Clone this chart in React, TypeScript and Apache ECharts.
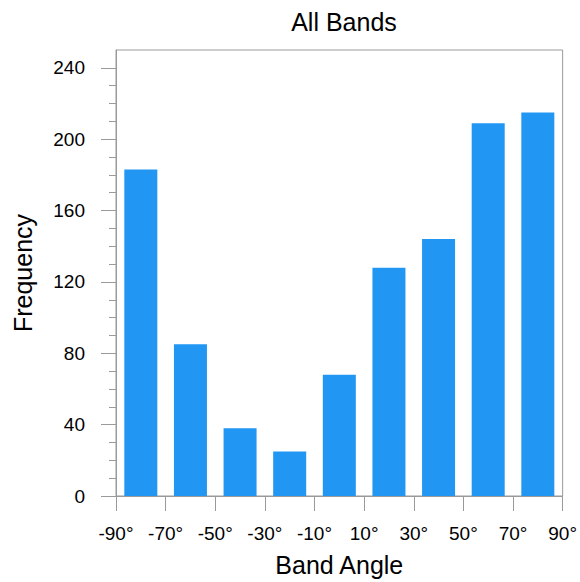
import React, { useEffect, useRef } from "react";
import * as echarts from "echarts";

// Bin centres (degrees) and counts
const binCenters = [-80, -60, -40, -20, 0, 20, 40, 60, 80];
const frequencies = [183, 85, 38, 25, 68, 128, 144, 209, 215];

const xMin = -90;
const xMax = 90;
const xStep = 20;
const yMajorTicks = [0, 40, 80, 120, 160, 200, 240];
const yMinorTicks = [10, 20, 30, 50, 60, 70, 90, 100, 110, 130, 140, 150, 170, 180, 190, 210, 220, 230];
const yMax = 250;

const FONT = "'Liberation Sans', Arial, Helvetica, sans-serif";

export default function App() {
  const ref = useRef<HTMLDivElement>(null);
  useEffect(() => {
    if (!ref.current) return;
    const chart = echarts.init(ref.current, undefined, { renderer: "svg" });
    const offset = -xMin; // shift so axis min is 0 (a multiple of the interval)
    const axisColor = "#9a9a9a";
    chart.setOption({
      animation: false,
      backgroundColor: "#ffffff",
      textStyle: { fontFamily: FONT },
      title: {
        text: "All Bands",
        left: 339,
        top: 4,
        textAlign: "center",
        textStyle: { fontFamily: FONT, fontSize: 25, fontWeight: "normal", color: "#000" },
      },
      grid: {
        left: 116,
        top: 50,
        right: 17,
        bottom: 85,
        show: true,
        borderColor: axisColor,
        borderWidth: 1,
        backgroundColor: "transparent",
      },
      xAxis: {
        type: "value",
        min: xMin + offset,
        max: xMax + offset,
        interval: xStep,
        name: "Band Angle",
        nameLocation: "middle",
        nameGap: 56,
        nameTextStyle: { fontFamily: FONT, fontSize: 25, color: "#000" },
        axisLine: { show: true, lineStyle: { color: axisColor } },
        axisTick: { show: true, inside: false, length: 15, lineStyle: { color: axisColor } },
        splitLine: { show: false },
        axisLabel: {
          margin: 28,
          fontFamily: FONT,
          fontSize: 19,
          color: "#000",
          formatter: (v: number) => `${v - offset}°`,
        },
      },
      yAxis: [
        {
          type: "value",
          min: 0,
          max: yMax,
          name: "Frequency",
          nameLocation: "middle",
          nameGap: 81,
          nameTextStyle: { fontFamily: FONT, fontSize: 25, color: "#000" },
          axisLine: { show: true, lineStyle: { color: axisColor } },
          axisTick: {
            show: true,
            length: 15,
            customValues: yMajorTicks,
            lineStyle: { color: axisColor },
          },
          axisLabel: {
            margin: 31,
            fontFamily: FONT,
            fontSize: 19,
            color: "#000",
            customValues: yMajorTicks,
          },
          splitLine: { show: false },
        },
        {
          type: "value",
          min: 0,
          max: yMax,
          position: "left",
          axisLine: { show: false },
          axisTick: {
            show: true,
            length: 7,
            customValues: yMinorTicks,
            lineStyle: { color: axisColor },
          },
          axisLabel: { show: false },
          splitLine: { show: false },
        },
      ],
      series: [
        {
          type: "bar",
          yAxisIndex: 0,
          barWidth: 33,
          itemStyle: { color: "#2196F3" },
          data: binCenters.map((c, i) => [c + offset, frequencies[i]]),
        },
      ],
    });
    return () => chart.dispose();
  }, []);
  return (
    <div
      ref={ref}
      style={{ position: "fixed", left: 0, top: 0, width: 580, height: 582 }}
    />
  );
}
